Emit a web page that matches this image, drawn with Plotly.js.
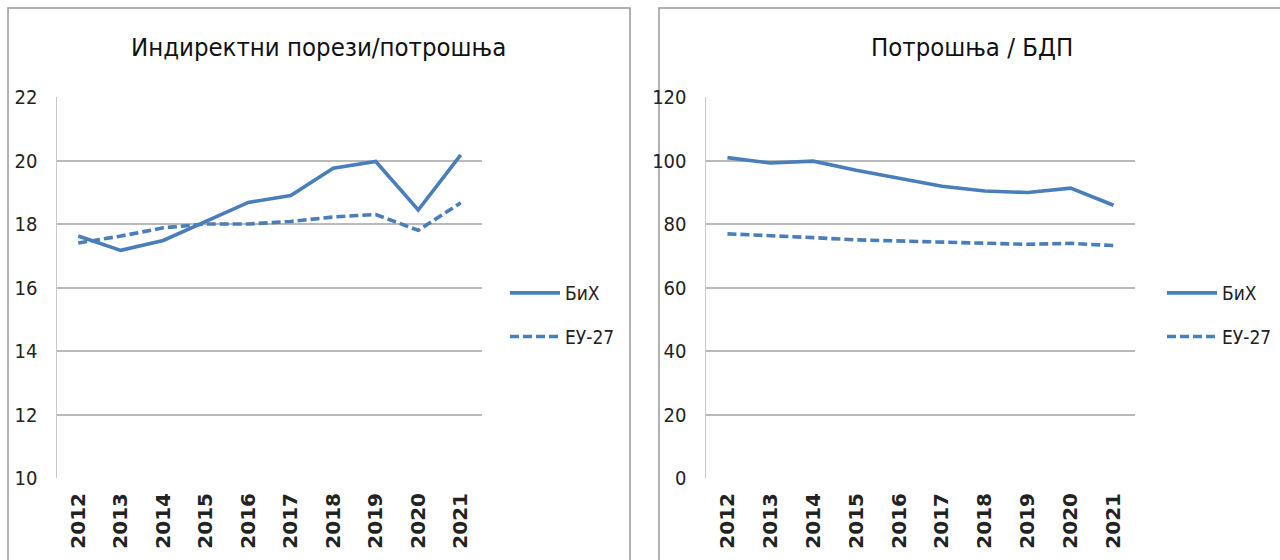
<!DOCTYPE html>
<html>
<head>
<meta charset="utf-8">
<script src="https://cdn.plot.ly/plotly-3.0.1.min.js"></script>
<style>html,body{margin:0;padding:0;background:#fff;} #chart{width:1280px;height:560px;}</style>
</head>
<body>
<div id="chart"></div>
<script>
const years = ['2012','2013','2014','2015','2016','2017','2018','2019','2020','2021'];
const seriesNames = ['БиХ', 'ЕУ-27'];
const titles = ['Индиректни порези/потрошња', 'Потрошња / БДП'];
// Chart 1: indirect taxes / consumption
const taxBiH = [17.62, 17.17, 17.48, 18.08, 18.68, 18.9, 19.76, 19.97, 18.44, 20.18];
const taxEU  = [17.4, 17.62, 17.88, 18.0, 18.0, 18.08, 18.22, 18.3, 17.8, 18.67];
// Chart 2: consumption / GDP
const consBiH = [100.9, 99.2, 99.8, 96.9, 94.4, 91.9, 90.4, 89.9, 91.3, 85.9];
const consEU  = [76.9, 76.4, 75.7, 75.0, 74.6, 74.2, 73.9, 73.6, 73.9, 73.2];
const yTicks1 = [10, 12, 14, 16, 18, 20, 22];
const yTicks2 = [0, 20, 40, 60, 80, 100, 120];

const W = 1280, H = 560;
const blue = '#4A7EBB';
const narrow = '"DejaVu Sans Condensed", "Liberation Sans Narrow", Lato, sans-serif';
const grid = '#BABABA';

function tr(y, name, xa, ya, dashed, leg) {
  return {
    x: years, y: y, name: name, type: 'scatter', mode: 'lines',
    xaxis: xa, yaxis: ya, legend: leg, legendgroup: leg + name,
    line: {color: blue, width: 3.6, dash: dashed ? '9px,4px' : 'solid'},
    hoverinfo: 'x+y'
  };
}

const data = [
  tr(taxBiH, seriesNames[0], 'x', 'y', false, 'legend'),
  tr(taxEU, seriesNames[1], 'x', 'y', true, 'legend'),
  tr(consBiH, seriesNames[0], 'x2', 'y2', false, 'legend2'),
  tr(consEU, seriesNames[1], 'x2', 'y2', true, 'legend2')
];

const yDom = [(H - 478) / H, (H - 97) / H];
function xax(d) {
  return {
    domain: d, type: 'category', range: [-0.5, 9.5],
    showgrid: false, zeroline: false, showline: false,
    ticks: '', tickangle: -90, ticklabelstandoff: 10,
    tickfont: {family: '"DejaVu Sans", sans-serif', size: 20, color: '#222', weight: 'bold'},
    fixedrange: true
  };
}
function yax(anchor, r, tv) {
  return {
    domain: yDom, anchor: anchor, range: r, tickvals: tv,
    showgrid: true, gridcolor: grid, gridwidth: 2,
    zeroline: false, showline: true, linecolor: '#C8C8C8', linewidth: 1.5,
    ticks: '', ticklabelstandoff: 14,
    tickfont: {family: narrow, size: 20, color: '#222'},
    fixedrange: true
  };
}
const legFont = {family: narrow, size: 19, color: '#222'};
const layout = {
  width: W, height: H,
  margin: {l: 0, r: 0, t: 0, b: 0, pad: 0},
  paper_bgcolor: '#fff', plot_bgcolor: '#fff',
  showlegend: true,
  xaxis: Object.assign(xax([57 / W, 482 / W]), {anchor: 'y'}),
  yaxis: yax('x', [10, 22], yTicks1),
  xaxis2: Object.assign(xax([706 / W, 1135 / W]), {anchor: 'y2'}),
  yaxis2: yax('x2', [0, 120], yTicks2),
  legend: {x: 505 / W, y: (H - 274) / H, xanchor: 'left', yanchor: 'top',
    font: legFont, bgcolor: 'rgba(0,0,0,0)', traceorder: 'grouped', tracegroupgap: 16, itemwidth: 50},
  legend2: {x: 1162 / W, y: (H - 274) / H, xanchor: 'left', yanchor: 'top',
    font: legFont, bgcolor: 'rgba(0,0,0,0)', traceorder: 'grouped', tracegroupgap: 16, itemwidth: 50},
  annotations: [
    {text: titles[0], xref: 'paper', yref: 'paper', x: 318 / W, y: (H - 47) / H,
     xanchor: 'center', yanchor: 'middle', showarrow: false,
     font: {family: narrow, size: 25.5, color: '#111'}},
    {text: titles[1], xref: 'paper', yref: 'paper', x: 972 / W, y: (H - 47) / H,
     xanchor: 'center', yanchor: 'middle', showarrow: false,
     font: {family: narrow, size: 25.5, color: '#111'}}
  ],
  shapes: [
    {type: 'rect', xref: 'paper', yref: 'paper', x0: 8 / W, x1: 630 / W, y0: -0.05, y1: (H - 8) / H,
     line: {color: '#9A9A9A', width: 1.5}, fillcolor: 'rgba(0,0,0,0)', layer: 'below'},
    {type: 'rect', xref: 'paper', yref: 'paper', x0: 659 / W, x1: 1.05, y0: -0.05, y1: (H - 8) / H,
     line: {color: '#9A9A9A', width: 1.5}, fillcolor: 'rgba(0,0,0,0)', layer: 'below'}
  ]
};
Plotly.newPlot('chart', data, layout, {displayModeBar: false, staticPlot: true});
</script>
</body>
</html>
